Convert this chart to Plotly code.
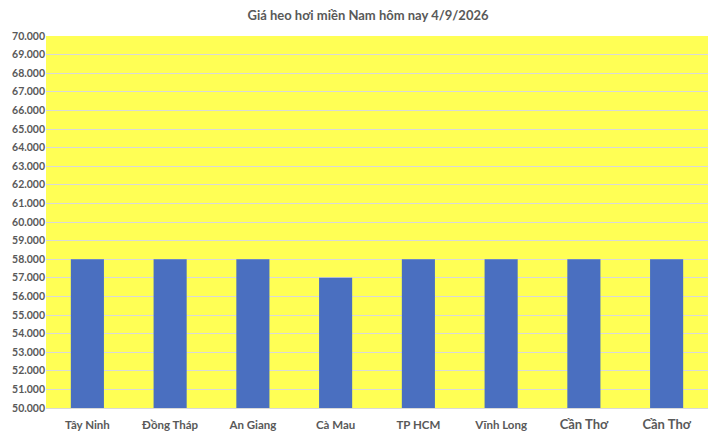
import plotly.graph_objects as go

# Data
provinces = ["Tây Ninh", "Đồng Tháp", "An Giang", "Cà Mau", "TP HCM", "Vĩnh Long", "Cần Thơ", "Cần Thơ"]
prices = [58000, 58000, 58000, 57000, 58000, 58000, 58000, 58000]
# the last two labels use a bigger font in the original
label_sizes = [11.5, 11.5, 11.5, 11.5, 11.5, 11.5, 13, 13]

positions = list(range(len(provinces)))
ticktext = [f"<span style='font-size:{s}px'><b>{p}</b></span>" for p, s in zip(provinces, label_sizes)]

fig = go.Figure()
fig.add_trace(go.Bar(
    x=positions,
    y=prices,
    marker=dict(color="#4A6FC0", line=dict(width=0)),
    width=0.4,
))

# page body adds an 8px offset, margins are set with that in mind
fig.update_layout(
    width=720,
    height=437,
    paper_bgcolor="white",
    plot_bgcolor="#FFFF55",
    separators=",.",
    margin=dict(l=38, r=20, t=28, b=37),
    showlegend=False,
    font=dict(family="Lato", color="#595959"),
    title=dict(
        text="<b>Giá heo hơi miền Nam hôm nay 4/9/2026</b>",
        x=0.5, xanchor="center", y=0.982, yanchor="middle",
        font=dict(size=13, color="#595959", family="Lato"),
    ),
    xaxis=dict(
        tickmode="array",
        tickvals=positions,
        ticktext=ticktext,
        range=[-0.5, len(provinces) - 0.5],
        showgrid=False,
        showline=True,
        linecolor="#D9D9D9",
        ticks="",
        ticklabelstandoff=6,
        tickfont=dict(size=11.5, color="#595959"),
        automargin=False,
    ),
    yaxis=dict(
        range=[50000, 70000],
        dtick=1000,
        tickformat=",d",
        showgrid=True,
        gridcolor="#D9D9D9",
        gridwidth=1,
        zeroline=False,
        ticks="",
        tickfont=dict(size=10.5, color="#595959", weight="bold"),
        automargin=False,
    ),
    shapes=[dict(type="line", xref="paper", yref="paper", x0=1.0076, x1=1.0076, y0=-0.2, y1=1.2,
                 line=dict(color="#D9D9D9", width=1))],
)

fig.write_html("out.html")
